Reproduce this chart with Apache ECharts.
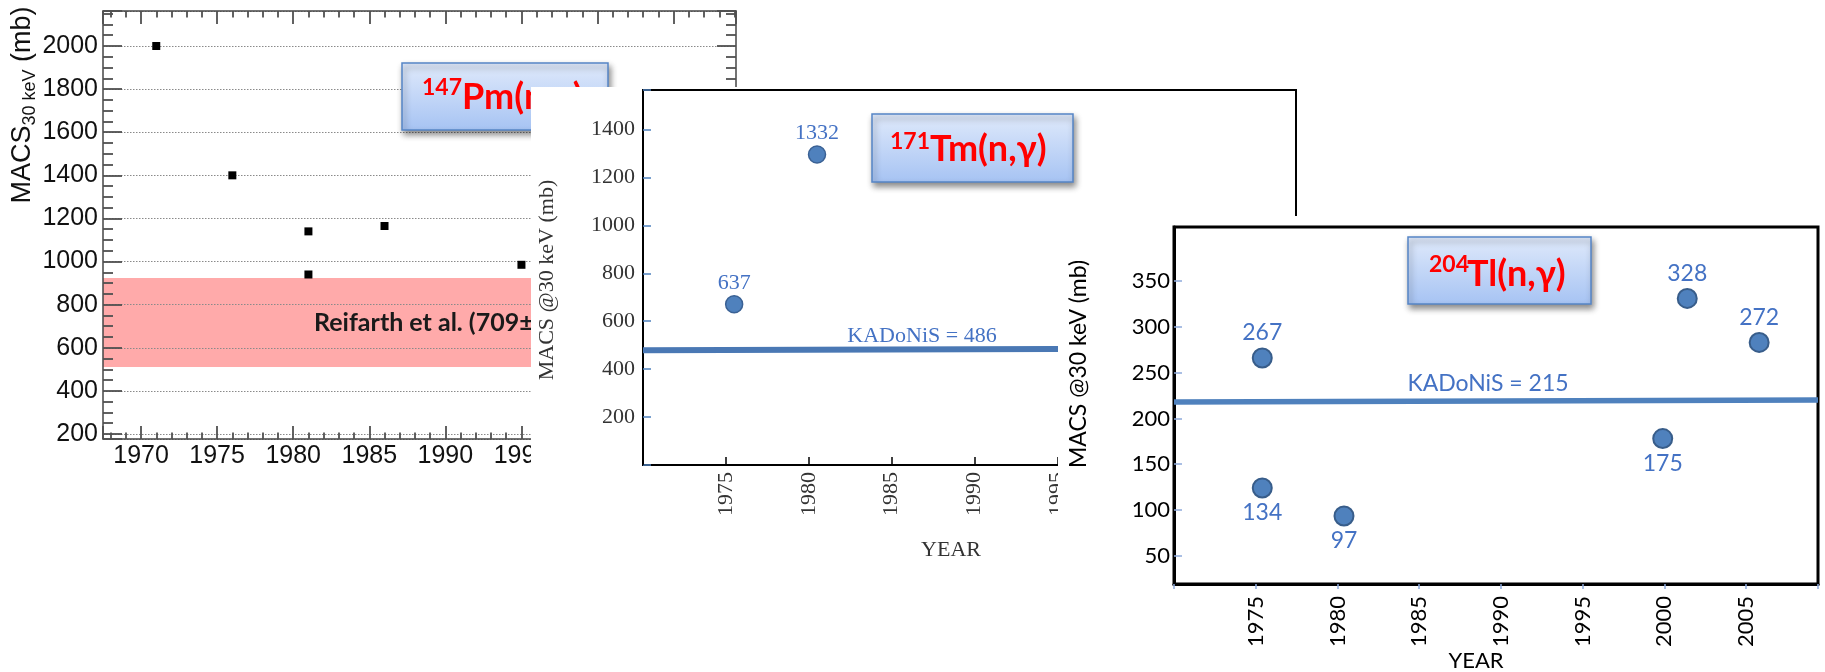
<!DOCTYPE html>
<html><head><meta charset="utf-8">
<script src="https://cdn.jsdelivr.net/npm/echarts@6/dist/echarts.min.js"></script>
<style>html,body{margin:0;padding:0;background:#fff}#c{width:1825px;height:672px}</style>
</head><body><div id="c"></div>
<script>
// ---- Panel 1: 147Pm(n,γ) ----
const pmYears = [1971, 1976, 1981, 1981, 1986, 1995];
const pmMacs = [2000, 1400, 1140, 940, 1165, 985];
const pmBand = [511, 924];            // Reifarth et al. band (mb)
const pmXRange = [1967.5, 2009.1];
const pmYRange = [176.8, 2162.4];
// ---- Panel 2: 171Tm(n,γ) ----
const tmYears = [1975.5, 1980.5];
const tmMacs = [671, 1296];
const tmLabels = ['637', '1332'];
const tmKadonisYears = [1970, 2009.4];
const tmKadonisLine = [479, 487];
const tmKadonis = 486;
const tmXRange = [1970, 2009.4];
const tmYRange = [0, 1565];
// ---- Panel 3: 204Tl(n,γ) ----
const tlYears = [1975.4, 1975.4, 1980.4, 1999.9, 2001.4, 2005.8];
const tlMacs = [266, 124, 93.5, 178, 331, 283];
const tlLabels = ['267', '134', '97', '175', '328', '272'];
const tlKadonisYears = [1970, 2009.4];
const tlKadonisLine = [218, 220];
const tlKadonis = 215;
const tlXRange = [1970, 2009.4];
const tlYRange = [19.2, 409];
const tlYTicks = [50, 100, 150, 200, 250, 300, 350];

const SANS = 'Liberation Sans';
const SERIF = 'Liberation Serif';
const CAL = "Lato, 'DejaVu Sans', sans-serif";
const BLUE = '#4472c4';

function zip(a, b) { return a.map((v, i) => [v, b[i]]); }
function isMult(v, m) { const r = Math.abs(v / m - Math.round(v / m)); return r < 1e-6; }

function txt(x, y, text, font, z, extra) {
  return Object.assign({
    type: 'text', x: x, y: y, z: z, silent: true,
    style: Object.assign({
      text: text, align: 'center', verticalAlign: 'middle',
      textAlign: 'center', textVerticalAlign: 'middle'
    }, font)
  }, extra || {});
}
function box(x, y, w, h, z) {
  return {
    type: 'rect', z: z, silent: true,
    shape: { x: x, y: y, width: w, height: h },
    style: {
      fill: new echarts.graphic.LinearGradient(0, 0, 0, 1, [
        { offset: 0, color: '#e0eafb' }, { offset: 1, color: '#a6c3f3' }]),
      stroke: '#5585c6', lineWidth: 1.5,
      shadowBlur: 6, shadowOffsetX: 2, shadowOffsetY: 4, shadowColor: 'rgba(0,0,0,0.45)'
    }
  };
}
function cover(x, y, w, h, z) {
  return { type: 'rect', z: z, silent: true, shape: { x: x, y: y, width: w, height: h }, style: { fill: '#fff' } };
}

const TC = '#505050';
const p1Line = { show: true, onZero: false, lineStyle: { color: '#444', width: 1.5 } };
const p1Tick = (len) => ({ show: true, inside: true, length: len, lineStyle: { color: TC, width: 1.8 } });
const p1Minor = (n, len) => ({ show: true, splitNumber: n, length: len, lineStyle: { color: TC, width: 1.8 } });

const option = {
  animation: false,
  backgroundColor: '#fff',
  grid: [
    { left: 103, top: 11, width: 633, height: 428, show: false, z: 1, outerBoundsMode: 'none', containLabel: false },
    { left: 643, top: 90, width: 653, height: 375, show: true, borderColor: '#000', borderWidth: 2, backgroundColor: 'transparent', z: 11, outerBoundsMode: 'none', containLabel: false },
    { left: 1174, top: 227, width: 644, height: 357, show: true, borderColor: '#000', borderWidth: 3, backgroundColor: 'transparent', z: 21, outerBoundsMode: 'none', containLabel: false }
  ],
  xAxis: [
    { gridIndex: 0, type: 'value', position: 'bottom', min: pmXRange[0], max: pmXRange[1], minInterval: 5, maxInterval: 5, z: 2,
      axisLine: p1Line, axisTick: p1Tick(13), minorTick: p1Minor(5, 6.5), splitLine: { show: false },
      axisLabel: { margin: 5, fontFamily: SANS, fontSize: 25, color: '#111', formatter: v => isMult(v, 5) ? String(Math.round(v)) : '' } },
    { gridIndex: 0, type: 'value', position: 'top', min: pmXRange[0], max: pmXRange[1], minInterval: 5, maxInterval: 5, z: 2,
      axisLine: p1Line, axisTick: p1Tick(13), minorTick: p1Minor(5, 6.5), splitLine: { show: false }, axisLabel: { show: false } },
    { gridIndex: 1, type: 'value', min: tmXRange[0], max: tmXRange[1], interval: 5, z: 12,
      axisLine: { show: true, onZero: false, lineStyle: { color: '#000', width: 2 } },
      axisTick: { show: true, inside: true, length: 8, lineStyle: { color: '#000', width: 1.5 } },
      splitLine: { show: false },
      axisLabel: { rotate: 90, margin: 7, fontFamily: SERIF, fontSize: 22, color: '#333', formatter: v => (isMult(v, 5) && v > 1970) ? String(v) : '' } },
    { gridIndex: 2, type: 'value', min: tlXRange[0], max: tlXRange[1], interval: 5, z: 22,
      axisLine: { show: true, onZero: false, lineStyle: { color: '#000', width: 3 } },
      axisTick: { show: true, inside: false, length: 5, lineStyle: { color: '#8eaadb', width: 1.5 } },
      splitLine: { show: false },
      axisLabel: { rotate: 90, margin: 12, fontFamily: CAL, fontSize: 22, color: '#000', formatter: v => (isMult(v, 5) && v > 1970) ? String(v) : '' } }
  ],
  yAxis: [
    { gridIndex: 0, type: 'value', position: 'left', min: pmYRange[0], max: pmYRange[1], minInterval: 200, maxInterval: 200, z: 2,
      axisLine: p1Line, axisTick: p1Tick(19), minorTick: p1Minor(4, 10),
      splitLine: { show: true, lineStyle: { type: [1.5, 1.5], color: '#8a8a8a', width: 1 } },
      axisLabel: { margin: 5, fontFamily: SANS, fontSize: 25, color: '#111', formatter: v => (isMult(v, 200) && v >= 200) ? String(Math.round(v)) : '' } },
    { gridIndex: 0, type: 'value', position: 'right', min: pmYRange[0], max: pmYRange[1], minInterval: 200, maxInterval: 200, z: 2,
      axisLine: p1Line, axisTick: p1Tick(19), minorTick: p1Minor(4, 10), splitLine: { show: false }, axisLabel: { show: false } },
    { gridIndex: 1, type: 'value', min: tmYRange[0], max: tmYRange[1], interval: 200, z: 12,
      axisLine: { show: true, onZero: false, lineStyle: { color: '#000', width: 2 } },
      axisTick: { show: true, inside: true, length: 8, lineStyle: { color: '#4f81bd', width: 1.5 } },
      splitLine: { show: false },
      axisLabel: { margin: 8, fontFamily: SERIF, fontSize: 22, color: '#333', formatter: v => (isMult(v, 200) && v > 0) ? String(v) : '' } },
    { gridIndex: 2, type: 'value', min: tlYRange[0], max: tlYRange[1], minInterval: 50, maxInterval: 50, z: 22,
      axisLine: { show: true, onZero: false, lineStyle: { color: '#000', width: 3 } },
      axisTick: { show: true, inside: true, length: 8, customValues: tlYTicks, lineStyle: { color: '#8eaadb', width: 1.5 } },
      splitLine: { show: false },
      axisLabel: { margin: 4, fontFamily: CAL, fontSize: 22, color: '#000', customValues: tlYTicks, formatter: v => (isMult(v, 50) && v >= 50 && v <= 350) ? String(v) : '' } }
  ],
  series: [
    { type: 'custom', xAxisIndex: 0, yAxisIndex: 0, z: 1, silent: true, data: [pmBand],
      renderItem: function (params, api) {
        const cs = params.coordSys;
        const yTop = api.coord([pmXRange[0], api.value(1)])[1];
        const yBot = api.coord([pmXRange[0], api.value(0)])[1];
        return { type: 'rect', shape: { x: cs.x, y: yTop, width: cs.width, height: yBot - yTop }, style: { fill: '#ffaaaa' } };
      } },
    { type: 'scatter', xAxisIndex: 0, yAxisIndex: 0, z: 3, symbol: 'rect', symbolSize: 8,
      itemStyle: { color: '#000', opacity: 1 }, data: zip(pmYears, pmMacs) },
    { type: 'line', xAxisIndex: 2, yAxisIndex: 2, z: 13, symbol: 'none', silent: true,
      lineStyle: { color: '#4a78b4', width: 6 }, data: zip(tmKadonisYears, tmKadonisLine) },
    { type: 'scatter', xAxisIndex: 2, yAxisIndex: 2, z: 14, symbol: 'circle', symbolSize: 17,
      itemStyle: { color: '#4f81bd', borderColor: '#3a6194', borderWidth: 1.5, opacity: 1 },
      label: { show: true, fontFamily: SERIF, fontSize: 22, color: BLUE, distance: 1 },
      data: tmYears.map((x, i) => ({ value: [x, tmMacs[i]], label: { formatter: tmLabels[i], position: tmMacs[i] > tmKadonis ? 'top' : 'bottom' } })) },
    { type: 'line', xAxisIndex: 3, yAxisIndex: 3, z: 23, symbol: 'none', silent: true,
      lineStyle: { color: '#4f81bd', width: 5.5 }, data: zip(tlKadonisYears, tlKadonisLine) },
    { type: 'scatter', xAxisIndex: 3, yAxisIndex: 3, z: 24, symbol: 'circle', symbolSize: 19,
      itemStyle: { color: '#4f81bd', borderColor: '#385d8a', borderWidth: 2, opacity: 1 },
      label: { show: true, fontFamily: CAL, fontSize: 23, color: BLUE, distance: 3 },
      data: tlYears.map((x, i) => ({ value: [x, tlMacs[i]], label: { formatter: tlLabels[i], position: tlMacs[i] > tlKadonis ? 'top' : 'bottom' } })) }
  ],
  graphic: { elements: [
    // panel 1
    txt(23, 105, '{a|MACS}{s|30 keV}{a| (mb)}', {
      fill: '#111',
      rich: { a: { fontFamily: SANS, fontSize: 27, lineHeight: 32, verticalAlign: 'middle', fill: '#111' },
              s: { fontFamily: SANS, fontSize: 18, lineHeight: 18, verticalAlign: 'bottom', fill: '#111' } }
    }, 5, { rotation: Math.PI / 2 }),
    box(402, 63, 206, 67, 5),
    txt(422, 88, '147', { fontFamily: CAL, fontWeight: 'bold', fontSize: 23, fill: '#ff0000', align: 'left', textAlign: 'left' }, 6),
    txt(462, 97, 'Pm(n,γ)', { fontFamily: CAL, fontWeight: 'bold', fontSize: 36, fill: '#ff0000', align: 'left', textAlign: 'left' }, 6),
    txt(314, 323, 'Reifarth et al. (709±100 mb)', { fontFamily: CAL, fontWeight: 'bold', fontSize: 25, fill: '#1a1a1a', align: 'left', textAlign: 'left' }, 5),
    // panel 2
    cover(531, 87, 770, 513, 10),
    txt(547, 280, 'MACS @30 keV (mb)', { fontFamily: SERIF, fontSize: 22, fill: '#333' }, 14, { rotation: Math.PI / 2 }),
    txt(951, 550, 'YEAR', { fontFamily: SERIF, fontSize: 22, fill: '#333' }, 14),
    box(872, 114, 201, 68, 14),
    txt(890, 141.5, '171', { fontFamily: CAL, fontWeight: 'bold', fontSize: 23, fill: '#ff0000', align: 'left', textAlign: 'left' }, 15),
    txt(930, 149, 'Tm(n,γ)', { fontFamily: CAL, fontWeight: 'bold', fontSize: 36, fill: '#ff0000', align: 'left', textAlign: 'left' }, 15),
    txt(922, 336, 'KADoNiS = ' + tmKadonis, { fontFamily: SERIF, fontSize: 22, fill: BLUE }, 14),
    // panel 3
    cover(1058, 216, 767, 456, 20),
    txt(1079, 364, 'MACS @30 keV (mb)', { fontFamily: CAL, fontSize: 23, fill: '#000' }, 24, { rotation: Math.PI / 2 }),
    txt(1476, 661, 'YEAR', { fontFamily: CAL, fontSize: 22, fill: '#000' }, 24),
    box(1408, 237, 183, 67, 24),
    txt(1429, 265, '204', { fontFamily: CAL, fontWeight: 'bold', fontSize: 23, fill: '#ff0000', align: 'left', textAlign: 'left' }, 25),
    txt(1467, 274, 'Tl(n,γ)', { fontFamily: CAL, fontWeight: 'bold', fontSize: 36, fill: '#ff0000', align: 'left', textAlign: 'left' }, 25),
    txt(1488, 384, 'KADoNiS = ' + tlKadonis, { fontFamily: CAL, fontSize: 23, fill: BLUE }, 24)
  ] }
};

const chart = echarts.init(document.getElementById('c'), null, { renderer: 'canvas' });
chart.setOption(option);
</script>
</body></html>
